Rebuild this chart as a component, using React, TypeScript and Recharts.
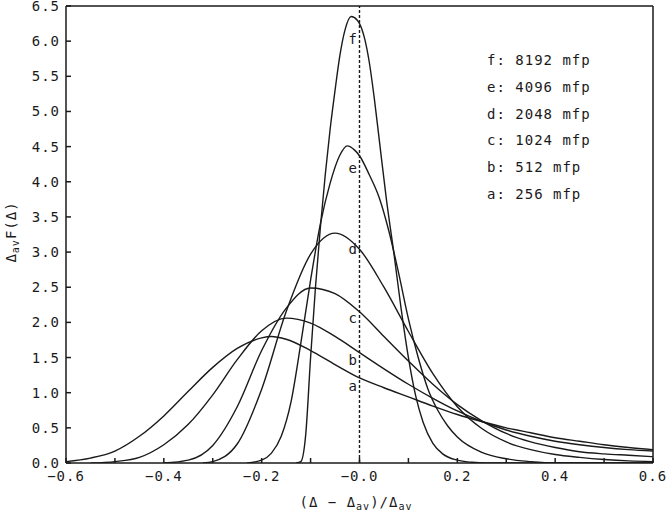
import { LineChart, Line, XAxis, YAxis, ReferenceLine, ReferenceDot } from "recharts";

// distribution curves, [x, y]
const curveA: [number, number][] = [
  [-0.6, 0.02], [-0.55, 0.07], [-0.5, 0.17], [-0.45, 0.38], [-0.4, 0.67], [-0.35, 1.02],
  [-0.3, 1.36], [-0.25, 1.63], [-0.2, 1.78], [-0.18, 1.8], [-0.15, 1.76], [-0.1, 1.6],
  [-0.05, 1.4], [0, 1.21], [0.05, 1.07], [0.1, 0.94], [0.15, 0.81], [0.2, 0.69],
  [0.25, 0.59], [0.3, 0.5], [0.35, 0.43], [0.4, 0.36], [0.45, 0.31], [0.5, 0.26],
  [0.55, 0.22], [0.6, 0.19],
];
const curveB: [number, number][] = [
  [-0.55, 0], [-0.5, 0.02], [-0.45, 0.08], [-0.4, 0.26], [-0.35, 0.55], [-0.3, 0.97],
  [-0.25, 1.47], [-0.2, 1.88], [-0.15, 2.06], [-0.1, 1.99], [-0.05, 1.8], [0, 1.57],
  [0.05, 1.34], [0.1, 1.12], [0.15, 0.92], [0.2, 0.74], [0.25, 0.59], [0.3, 0.47],
  [0.35, 0.38], [0.4, 0.31], [0.45, 0.26], [0.5, 0.22], [0.55, 0.19], [0.6, 0.17],
];
const curveC: [number, number][] = [
  [-0.4, 0], [-0.35, 0.04], [-0.3, 0.25], [-0.25, 0.8], [-0.2, 1.6], [-0.15, 2.2],
  [-0.1, 2.49], [-0.05, 2.41], [0, 2.15], [0.05, 1.8], [0.1, 1.45], [0.15, 1.12],
  [0.2, 0.83], [0.25, 0.6], [0.3, 0.42], [0.35, 0.3], [0.4, 0.22], [0.45, 0.16],
  [0.5, 0.13], [0.55, 0.11], [0.6, 0.09],
];
const curveD: [number, number][] = [
  [-0.32, 0], [-0.3, 0.02], [-0.25, 0.27], [-0.2, 1.05], [-0.15, 2.15], [-0.1, 2.97],
  [-0.05, 3.27], [0, 3.04], [0.05, 2.5], [0.1, 1.87], [0.15, 1.27], [0.2, 0.8],
  [0.25, 0.49], [0.3, 0.3], [0.35, 0.19], [0.4, 0.12], [0.45, 0.08], [0.5, 0.05],
  [0.55, 0.03], [0.6, 0.02],
];
const curveE: [number, number][] = [
  [-0.23, 0], [-0.2, 0.04], [-0.18, 0.14], [-0.16, 0.38], [-0.14, 0.87], [-0.12, 1.7],
  [-0.1, 2.6], [-0.08, 3.4], [-0.06, 3.98], [-0.04, 4.38], [-0.025, 4.51], [-0.01, 4.45],
  [0, 4.37], [0.02, 4.1], [0.04, 3.78], [0.06, 3.3], [0.08, 2.7], [0.1, 2.05],
  [0.12, 1.5], [0.14, 1.05], [0.16, 0.75], [0.18, 0.53], [0.2, 0.37], [0.25, 0.15],
  [0.3, 0.06], [0.35, 0.02], [0.4, 0], [0.6, 0],
];
const curveF: [number, number][] = [
  [-0.13, 0], [-0.12, 0.02], [-0.11, 0.4], [-0.1, 1.5], [-0.09, 2.5], [-0.08, 3.35],
  [-0.07, 4.1], [-0.06, 4.75], [-0.05, 5.3], [-0.04, 5.8], [-0.03, 6.15], [-0.017, 6.35],
  [-0.005, 6.3], [0, 6.25], [0.01, 6.05], [0.02, 5.7], [0.03, 5.2], [0.04, 4.62],
  [0.055, 3.75], [0.07, 3.0], [0.085, 2.2], [0.1, 1.5], [0.115, 0.95], [0.13, 0.58],
  [0.15, 0.28], [0.17, 0.13], [0.2, 0.04], [0.23, 0.01], [0.26, 0], [0.6, 0],
];

const curves = [curveA, curveB, curveC, curveD, curveE, curveF];

// in-plot letters next to the dashed line
const letters = ["f", "e", "d", "c", "b", "a"];
const letterY = [6.03, 4.2, 3.05, 2.06, 1.46, 1.1];
const letterX = -0.014;

// legend block, top right
const legendKeys = ["f", "e", "d", "c", "b", "a"];
const legendMfp = [8192, 4096, 2048, 1024, 512, 256];

const xTicks = [-0.6, -0.5, -0.4, -0.3, -0.2, -0.1, 0, 0.1, 0.2, 0.3, 0.4, 0.5, 0.6];
const yTicks = [0, 0.5, 1, 1.5, 2, 2.5, 3, 3.5, 4, 4.5, 5, 5.5, 6, 6.5];

const INK = "#1a1a1a";
const MONO = '"DejaVu Sans Mono", monospace';

function fmtX(v: number) {
  const k = Math.round(v * 10);
  if (k % 2 !== 0) return "";
  if (k === 0) return "\u22120.0";
  return (v < 0 ? "\u2212" : "") + Math.abs(v).toFixed(1);
}

const tickStyle = { fontSize: 14, fill: INK, fontFamily: MONO, letterSpacing: 1 };

export default function App() {
  return (
    <div style={{ position: "absolute", left: 0, top: 0, width: 667, height: 513, background: "#fff" }}>
      <LineChart width={667} height={513} margin={{ top: 0, right: 0, bottom: 0, left: 0 }}>
        <XAxis
          xAxisId="b"
          type="number"
          dataKey="x"
          domain={[-0.6, 0.6]}
          ticks={xTicks}
          interval={0}
          tickFormatter={fmtX}
          height={50}
          tickSize={-5}
          tickMargin={13}
          stroke={INK}
          strokeWidth={1.5}
          tick={tickStyle}
          allowDataOverflow
        />
        <XAxis
          xAxisId="t"
          orientation="top"
          type="number"
          domain={[-0.6, 0.6]}
          ticks={xTicks}
          interval={0}
          height={6}
          tickSize={-4}
          tick={false}
          stroke={INK}
          strokeWidth={1.5}
        />
        <YAxis
          yAxisId="l"
          type="number"
          domain={[0, 6.5]}
          ticks={yTicks}
          interval={0}
          width={66}
          tickSize={-5}
          tickMargin={11}
          tickFormatter={(v: number) => v.toFixed(1)}
          stroke={INK}
          strokeWidth={1.5}
          tick={tickStyle}
          allowDataOverflow
        />
        <YAxis
          yAxisId="r"
          orientation="right"
          type="number"
          domain={[0, 6.5]}
          ticks={yTicks}
          interval={0}
          width={14}
          tickSize={-5}
          tick={false}
          stroke={INK}
          strokeWidth={1.5}
        />
        <ReferenceLine xAxisId="b" yAxisId="l" x={0} stroke={INK} strokeWidth={1.4} strokeDasharray="3 2" />
        {curves.map((c, i) => (
          <Line
            key={i}
            xAxisId="b"
            yAxisId="l"
            data={c.map(([x, y]) => ({ x, y }))}
            dataKey="y"
            type="monotone"
            dot={false}
            stroke={INK}
            strokeWidth={1.4}
            isAnimationActive={false}
          />
        ))}
        {letters.map((l, i) => (
          <ReferenceDot
            key={l}
            xAxisId="b"
            yAxisId="l"
            x={letterX}
            y={letterY[i]}
            r={0}
            fillOpacity={0}
            strokeOpacity={0}
            label={{ value: l, position: "center", fill: INK, fontSize: 14, fontFamily: MONO }}
          />
        ))}
      </LineChart>

      {legendKeys.map((k, i) => (
        <div
          key={k}
          style={{
            position: "absolute",
            left: 487,
            top: 51 + i * 26.8,
            fontFamily: MONO,
            fontSize: 14,
            letterSpacing: 1,
            color: INK,
            whiteSpace: "pre",
            lineHeight: "18px",
          }}
        >
          {`${k}: ${legendMfp[i]} mfp`}
        </div>
      ))}

      <div
        style={{
          position: "absolute",
          left: 356,
          top: 503,
          transform: "translate(-50%, -50%)",
          fontFamily: MONO,
          fontSize: 14,
          letterSpacing: 1,
          color: INK,
          whiteSpace: "pre",
        }}
      >
        (Δ − Δ<sub style={{ fontSize: 10 }}>av</sub>)/Δ<sub style={{ fontSize: 10 }}>av</sub>
      </div>
      <div
        style={{
          position: "absolute",
          left: 12,
          top: 232,
          transform: "translate(-50%, -50%) rotate(-90deg)",
          fontFamily: MONO,
          fontSize: 14,
          letterSpacing: 1,
          color: INK,
          whiteSpace: "pre",
        }}
      >
        Δ<sub style={{ fontSize: 10 }}>av</sub>F(Δ)
      </div>
    </div>
  );
}
